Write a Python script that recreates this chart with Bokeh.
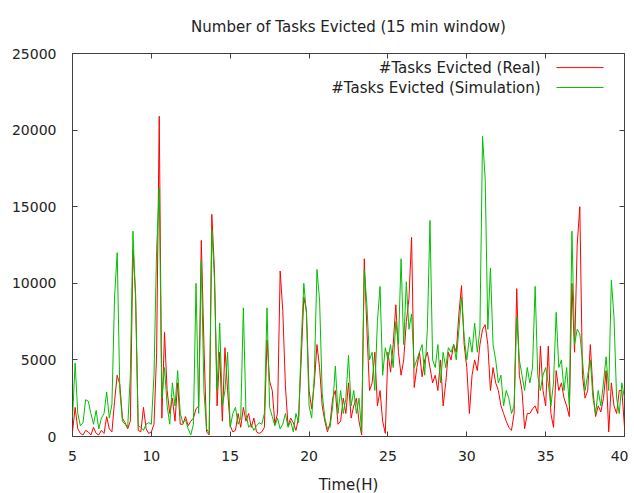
import numpy as np
from bokeh.plotting import figure
from bokeh.models import (LinearAxis, Label, Range1d, FixedTicker, NumeralTickFormatter,
                          CustomJSTickFormatter)
from bokeh.embed import file_html
from bokeh.resources import INLINE

# Time axis: 10-minute samples from 5 h to 40 h
hours = np.linspace(5, 40, 211)

# Number of tasks evicted (Real), one row per hour
real = [
    300, 1900, 500, 200, 100, 400,        # 5
    300, 100, 600, 200, 100, 400,         # 6
    200, 1300, 500, 300, 2300, 4000,      # 7
    3400, 1200, 900, 500, 1000, 12200,    # 8
    9300, 400, 300, 1900, 500, 200,       # 9
    300, 800, 5400, 20900, 1200, 6800,    # 10
    3000, 1500, 2500, 1000, 3500, 800,    # 11
    800, 1300, 700, 1000, 1200, 1800,     # 12
    2000, 12800, 6000, 300, 100, 14500,   # 13
    10900, 2000, 5500, 1000, 5800, 3000,  # 14
    700, 300, 400, 1500, 600, 1900,       # 15
    1000, 1500, 600, 1200, 300, 200,      # 16
    300, 600, 6300, 3600, 3000, 800,      # 17
    1500, 10800, 8200, 3300, 700, 1200,   # 18
    900, 400, 1200, 5000, 9100, 8200,     # 19
    3000, 1800, 3500, 6000, 4500, 2000,   # 20
    1000, 300, 900, 2500, 3000, 800,      # 21
    1000, 2500, 1500, 3500, 1200, 2000,   # 22
    2500, 1000, 100, 11600, 7000, 3000,   # 23
    3500, 5500, 2000, 3000, 1000, 200,    # 24
    5500, 4200, 6000, 8600, 5500, 4000,   # 25
    5000, 7500, 9000, 13000, 3200, 4500,  # 26
    5500, 3900, 5000, 5500, 4500, 3500,   # 27
    4000, 3000, 5000, 2000, 3500, 5500,   # 28
    5000, 6000, 5500, 8000, 9850, 6000,   # 29
    4500, 1500, 4000, 5000, 4300, 6000,   # 30
    7000, 7300, 6000, 3000, 4500, 3500,   # 31
    3000, 2000, 1500, 1000, 600, 400,     # 32
    1500, 9650, 4000, 3000, 500, 1500,    # 33
    1500, 1800, 2000, 1500, 5900, 3000,   # 34
    2000, 5900, 1500, 600, 4300, 3000,    # 35
    3500, 2500, 2000, 1300, 10000, 5500,  # 36
    12500, 15000, 4000, 2500, 3000, 6000, # 37
    3000, 1300, 2000, 1600, 2500, 4300,   # 38
    300, 3500, 2000, 1500, 3000, 3000,    # 39
    600,                                  # 40
]

# Number of tasks evicted (Simulation)
sim = [
    1200, 4800, 1500, 700, 900, 2400,     # 5
    2300, 1500, 800, 1700, 500, 1200,     # 6
    1500, 2900, 1200, 2100, 9100, 12000,  # 7
    3000, 1000, 800, 600, 4000, 13400,    # 8
    9000, 700, 600, 400, 800, 900,        # 9
    800, 4000, 12200, 16200, 2500, 4500,  # 10
    2000, 800, 3500, 2000, 4300, 1500,    # 11
    900, 1100, 500, 100, 800, 10000,      # 12
    1500, 11500, 3000, 500, 200, 13500,   # 13
    10300, 3000, 7400, 2000, 3000, 5500,  # 14
    600, 1500, 1900, 800, 1200, 8400,     # 15
    1500, 600, 800, 400, 700, 900,        # 16
    800, 1500, 8400, 1900, 1300, 700,     # 17
    1200, 500, 800, 1500, 600, 1000,      # 18
    300, 1500, 900, 6000, 10000, 8000,    # 19
    2000, 1200, 4000, 10900, 8900, 2800,  # 20
    1200, 500, 600, 2000, 4600, 1500,     # 21
    3000, 1500, 2500, 5300, 2000, 3000,   # 22
    1500, 2500, 300, 10900, 8600, 5000,   # 23
    5500, 3000, 7500, 9800, 4000, 5800,   # 24
    5000, 6000, 4500, 7500, 6000, 11600,  # 25
    6000, 10100, 7000, 8000, 4500, 5000,  # 26
    5500, 6000, 4000, 7000, 14100, 5000,  # 27
    4500, 6000, 3500, 5500, 4500, 5800,   # 28
    5500, 6000, 5000, 7000, 9100, 6500,   # 29
    5000, 6500, 5500, 7400, 5500, 7000,   # 30
    19600, 16800, 7000, 11000, 6000, 5000,# 31
    3500, 4000, 2000, 3000, 2500, 1500,   # 32
    2000, 7800, 5000, 4000, 3000, 4500,   # 33
    3500, 4500, 9800, 4000, 3000, 4000,   # 34
    4500, 3500, 2000, 3500, 8100, 4500,   # 35
    5000, 3000, 4500, 2000, 13400, 6000,  # 36
    7000, 6700, 5000, 3000, 4000, 5000,   # 37
    2500, 1500, 3000, 2000, 3500, 5200,   # 38
    3000, 10200, 7800, 2500, 1500, 3500,  # 39
    2500,                                 # 40
]

x_ticks = [5, 10, 15, 20, 25, 30, 35, 40]
y_ticks = [0, 5000, 10000, 15000, 20000, 25000]
series_labels = ["#Tasks Evicted (Real)", "#Tasks Evicted (Simulation)"]
series_colors = ["#ff0000", "#00c000"]

FONT = "DejaVu Sans"
TXT = "#222222"
FRAME = "#404040"

p = figure(
    frame_width=552, frame_height=383,
    x_range=Range1d(5, 40), y_range=Range1d(0, 25000),
    output_backend="svg", toolbar_location=None,
    min_border_left=72, min_border_right=4, min_border_top=53, min_border_bottom=56,
    title="Number of Tasks Evicted (15 min window)",
)
p.background_fill_color = "white"
p.border_fill_color = "white"
p.outline_line_color = FRAME
p.outline_line_width = 1
p.xgrid.visible = False
p.ygrid.visible = False

p.title.align = "center"
p.title.vertical_align = "top"
p.title.text_font = FONT
p.title.text_font_size = "15px"
p.title.text_font_style = "normal"
p.title.text_color = TXT
p.title.standoff = 31

def style_axis(ax, ticks, show_labels=True):
    ax.ticker = FixedTicker(ticks=ticks)
    ax.axis_line_color = None
    ax.major_tick_in = 5
    ax.major_tick_out = 0
    ax.major_tick_line_color = FRAME
    ax.minor_tick_line_color = None
    ax.major_label_text_font = FONT
    ax.major_label_text_color = TXT
    if show_labels:
        ax.formatter = NumeralTickFormatter(format="0")
        ax.major_label_text_font_size = "14px"
    else:
        ax.formatter = CustomJSTickFormatter(code="return ''")
        ax.major_label_text_font_size = "1px"
        ax.major_label_standoff = 0

style_axis(p.xaxis[0], x_ticks)
style_axis(p.yaxis[0], y_ticks)
p.xaxis[0].major_label_standoff = 14
p.yaxis[0].major_label_standoff = 16
p.xaxis[0].axis_label = "Time(H)"
p.xaxis[0].axis_label_text_font = FONT
p.xaxis[0].axis_label_text_font_size = "15px"
p.xaxis[0].axis_label_text_font_style = "normal"
p.xaxis[0].axis_label_text_color = TXT
p.xaxis[0].axis_label_standoff = 12

top_axis = LinearAxis()
style_axis(top_axis, x_ticks, show_labels=False)
p.add_layout(top_axis, "above")
right_axis = LinearAxis()
style_axis(right_axis, y_ticks, show_labels=False)
p.add_layout(right_axis, "right")

p.line(hours, real, line_color=series_colors[0], line_width=1)
p.line(hours, sim, line_color=series_colors[1], line_width=1)

# gnuplot-style key: right-aligned text, sample line to its right
key_text_x = 34.68
key_line_x0, key_line_x1 = 35.69, 38.67
key_rows_y = [24080, 22780]
for lab, col, ky in zip(series_labels, series_colors, key_rows_y):
    p.add_layout(Label(x=key_text_x, y=ky, text=lab, text_align="right",
                       text_baseline="middle", text_font=FONT,
                       text_font_size="15px", text_color=TXT))
    p.segment(x0=[key_line_x0], y0=[ky], x1=[key_line_x1], y1=[ky],
              line_color=col, line_width=1)

open("out.html", "w").write(file_html(p, INLINE))
